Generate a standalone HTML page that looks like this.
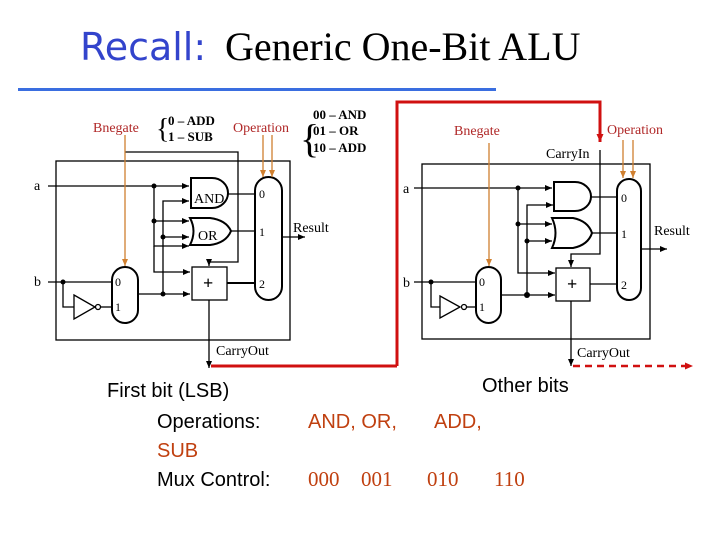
<!DOCTYPE html>
<html><head><meta charset="utf-8"><style>
html,body{margin:0;padding:0;background:#fff;}
svg{display:block;}
.s{font-family:"Liberation Serif",serif;}
.a{font-family:"Liberation Sans",sans-serif;}
</style></head><body>
<svg width="720" height="540" viewBox="0 0 720 540" xmlns="http://www.w3.org/2000/svg">
<defs>
<marker id="k" markerWidth="8" markerHeight="8" refX="7" refY="4" orient="auto" markerUnits="userSpaceOnUse"><path d="M0,1 L7,4 L0,7z" fill="#000"/></marker>
<marker id="o" markerWidth="8" markerHeight="8" refX="7" refY="4" orient="auto" markerUnits="userSpaceOnUse"><path d="M0,1 L7,4 L0,7z" fill="#d08030"/></marker>
<marker id="r" markerWidth="9" markerHeight="9" refX="8" refY="4.5" orient="auto" markerUnits="userSpaceOnUse"><path d="M0,1 L8,4.5 L0,8z" fill="#d01010"/></marker>
</defs>
<text x="80" y="60" font-family="'DejaVu Sans',sans-serif" font-size="38" fill="#3344cc">Recall:</text>
<text x="225" y="60" class="s" font-size="40" fill="#000">Generic One-Bit ALU</text>
<rect x="18" y="88" width="478" height="3" fill="#3a6ee0"/>

<path d="M397,366 V102 H600 V142" fill="none" stroke="#d01010" stroke-width="3" marker-end="url(#r)"/>
<path d="M397,366 H211" fill="none" stroke="#d01010" stroke-width="3"/>
<path d="M573,366 H693" fill="none" stroke="#d01010" stroke-width="2.5" stroke-dasharray="7,5" marker-end="url(#r)"/>

<g stroke="#000" stroke-width="1.3" fill="none">
<rect x="56" y="161" width="234" height="179"/>
<path d="M48,186 H189" marker-end="url(#k)"/>
<path d="M154,186 V246 H189" marker-end="url(#k)"/>
<path d="M154,221 H189" marker-end="url(#k)"/>
<path d="M163,294 V201 H189" marker-end="url(#k)"/>
<path d="M163,237 H189" marker-end="url(#k)"/>
<path d="M154,246 V272 H190" marker-end="url(#k)"/>
<path d="M138,294 H190" marker-end="url(#k)"/>
<path d="M191,178 H212 A16,15 0 0 1 212,208 H191 Z" stroke-width="2"/>
<path d="M190,218 H210 Q226,220 231,231 Q226,243 210,245 H190 Q197,231 190,218 Z" stroke-width="2"/>
<path d="M228,194 H255"/><path d="M231,231 H255"/><path d="M227,283 H255" stroke-width="2"/>
<rect x="255" y="177" width="27" height="123" rx="13.5" stroke-width="2"/>
<path d="M282,237 H305" marker-end="url(#k)"/>
<rect x="192" y="267" width="35" height="33"/>
<path d="M125,152 H238 V262 H209 V266" marker-end="url(#k)"/>
<path d="M48,282 H112"/>
<path d="M63,282 V307 H74"/>
<path d="M74,295 L95,307 L74,319 Z"/>
<circle cx="98" cy="307" r="2.5"/>
<path d="M101,307 H112"/>
<rect x="112" y="267" width="26" height="56" rx="13" stroke-width="2"/>
<path d="M209,300 V368" marker-end="url(#k)"/>

<rect x="422" y="164" width="228" height="175"/>
<path d="M414,188 H552" marker-end="url(#k)"/>
<path d="M518,188 V273 H555" marker-end="url(#k)"/>
<path d="M518,224 H552" marker-end="url(#k)"/>
<path d="M527,295 V205 H553" marker-end="url(#k)"/>
<path d="M527,241 H552" marker-end="url(#k)"/>
<path d="M501,295 H555" marker-end="url(#k)"/>
<path d="M554,182 H575 A16,14.5 0 0 1 575,211 H554 Z" stroke-width="2"/>
<path d="M552,218 H573 Q588,221 592,233 Q588,245 573,248 H552 Q559,233 552,218 Z" stroke-width="2"/>
<path d="M590,197 H617"/><path d="M592,233 H617"/><path d="M590,284 H617"/>
<rect x="617" y="179" width="24" height="121" rx="12" stroke-width="2"/>
<path d="M641,249 H667" marker-end="url(#k)"/>
<rect x="556" y="268" width="34" height="33"/>
<path d="M600,150 V254 H571 V267" marker-end="url(#k)"/>
<path d="M414,282 H476"/>
<path d="M431,282 V307 H440"/>
<path d="M440,296 L460,307 L440,318 Z"/>
<circle cx="464" cy="307" r="2.5"/>
<path d="M467,307 H476"/>
<rect x="476" y="267" width="25" height="56" rx="12.5" stroke-width="2"/>
<path d="M571,301 V366" marker-end="url(#k)"/>
</g>
<g fill="#000">
<circle cx="154" cy="186" r="2.5"/><circle cx="154" cy="221" r="2.5"/><circle cx="163" cy="237" r="2.5"/><circle cx="163" cy="294" r="2.5"/><circle cx="63" cy="282" r="2.5"/>
<circle cx="518" cy="188" r="2.5"/><circle cx="518" cy="224" r="2.5"/><circle cx="527" cy="241" r="2.5"/><circle cx="527" cy="295" r="3"/><circle cx="431" cy="282" r="2.5"/>
</g>
<g stroke="#d08030" stroke-width="1.3" fill="none">
<path d="M125,135 V266" marker-end="url(#o)"/>
<path d="M263,135 V177" marker-end="url(#o)"/>
<path d="M272,135 V177" marker-end="url(#o)"/>
<path d="M489,143 V266" marker-end="url(#o)"/>
<path d="M623,140 V178" marker-end="url(#o)"/>
<path d="M633,140 V178" marker-end="url(#o)"/>
</g>
<g class="s" font-size="14">
<text x="93" y="132" fill="#b02828">Bnegate</text>
<text x="233" y="132" fill="#b02828">Operation</text>
<text x="454" y="135" fill="#b02828">Bnegate</text>
<text x="607" y="134" fill="#b02828">Operation</text>
<text x="546" y="158">CarryIn</text>
<text x="156" y="138" font-size="28">{</text>
<text x="300" y="152" font-size="40">{</text>
<g font-weight="bold" font-size="13">
<text x="168" y="125">0 – ADD</text><text x="168" y="141">1 – SUB</text>
<text x="313" y="119">00 – AND</text><text x="313" y="135">01 – OR</text><text x="313" y="152">10 – ADD</text>
</g>
<text x="34" y="190">a</text><text x="34" y="286">b</text>
<text x="194" y="203">AND</text><text x="198" y="240">OR</text>
<text x="259" y="198" font-size="12">0</text><text x="259" y="236" font-size="12">1</text><text x="259" y="288" font-size="12">2</text>
<text x="115" y="286" font-size="12">0</text><text x="115" y="311" font-size="12">1</text>
<text x="293" y="232">Result</text>
<text x="216" y="355">CarryOut</text>
<text x="403" y="193">a</text><text x="403" y="287">b</text>
<text x="621" y="202" font-size="12">0</text><text x="621" y="238" font-size="12">1</text><text x="621" y="289" font-size="12">2</text>
<text x="479" y="286" font-size="12">0</text><text x="479" y="311" font-size="12">1</text>
<text x="654" y="235">Result</text>
<text x="577" y="357">CarryOut</text>
<text x="203" y="289" font-size="18" font-weight="bold">+</text>
<text x="567" y="290" font-size="18" font-weight="bold">+</text>
</g>
<g class="a" font-size="20">
<text x="107" y="397">First bit (LSB)</text>
<text x="482" y="392">Other bits</text>
<text x="157" y="428">Operations:</text>
<text x="308" y="428" fill="#c04010">AND, OR,</text>
<text x="434" y="428" fill="#c04010">ADD,</text>
<text x="157" y="457" fill="#c04010">SUB</text>
<text x="157" y="486">Mux Control:</text>
</g>
<g class="s" font-size="21" fill="#c04010">
<text x="308" y="486">000</text><text x="361" y="486">001</text><text x="427" y="486">010</text><text x="494" y="486">110</text>
</g>
</svg>
</body></html>
